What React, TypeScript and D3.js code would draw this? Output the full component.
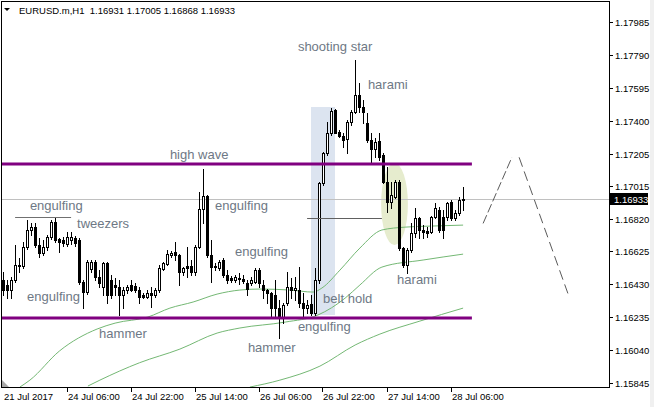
import React, { useEffect, useRef } from "react";
import * as d3 from "d3";

type Bar = [number, number, number, number]; // open, high, low, close
type Pt = [number, number]; // bar index, price

const symbol = "EURUSD.m";
const timeframe = "H1";

// hourly bars, one array per trading day
const jul21: Bar[] = [
  [1.16455, 1.16503, 1.16366, 1.16396],
  [1.16426, 1.16455, 1.16348, 1.16396],
  [1.16396, 1.16473, 1.16348, 1.16455],
  [1.16455, 1.16663, 1.16443, 1.16544],
  [1.16544, 1.16586, 1.16503, 1.16538],
  [1.16538, 1.1668, 1.16526, 1.16651],
  [1.16651, 1.16811, 1.16639, 1.16752],
  [1.16752, 1.16793, 1.16722, 1.16769],
  [1.16769, 1.16793, 1.16651, 1.16663],
  [1.16663, 1.16704, 1.16592, 1.16615],
];
const jul24: Bar[] = [
  [1.16615, 1.16692, 1.16603, 1.16651],
  [1.16651, 1.16722, 1.16633, 1.1671],
  [1.1671, 1.16811, 1.16698, 1.16799],
  [1.16799, 1.16829, 1.1668, 1.16692],
  [1.16698, 1.16704, 1.16621, 1.1668],
  [1.16692, 1.1671, 1.16657, 1.16675],
  [1.16669, 1.1674, 1.16657, 1.1671],
  [1.16692, 1.1674, 1.16669, 1.1671],
  [1.16704, 1.16716, 1.16657, 1.16675],
  [1.16692, 1.16704, 1.16431, 1.16443],
  [1.16443, 1.16455, 1.16289, 1.16384],
  [1.16384, 1.16574, 1.16372, 1.16562],
  [1.1652, 1.16574, 1.16503, 1.16562],
  [1.16562, 1.16574, 1.16455, 1.16473],
  [1.16473, 1.16514, 1.16414, 1.16437],
  [1.16414, 1.16562, 1.16366, 1.16556],
  [1.16556, 1.16562, 1.16319, 1.16366],
  [1.16455, 1.16485, 1.16348, 1.16366],
  [1.16426, 1.16467, 1.16366, 1.16414],
  [1.16414, 1.16455, 1.16248, 1.16366],
  [1.16366, 1.16414, 1.16289, 1.16396],
  [1.16396, 1.16426, 1.16378, 1.16414],
  [1.16426, 1.16455, 1.1639, 1.16396],
  [1.1642, 1.16437, 1.16384, 1.16396],
];
const jul25: Bar[] = [
  [1.16396, 1.16414, 1.16319, 1.16354],
  [1.16366, 1.16378, 1.16348, 1.16354],
  [1.16354, 1.16396, 1.16348, 1.16378],
  [1.16378, 1.16414, 1.16295, 1.16366],
  [1.16366, 1.16408, 1.16354, 1.16396],
  [1.16396, 1.16544, 1.16384, 1.16526],
  [1.1652, 1.16562, 1.16514, 1.16556],
  [1.1655, 1.16633, 1.16544, 1.16609],
  [1.16603, 1.16627, 1.16592, 1.16615],
  [1.16621, 1.1668, 1.16574, 1.16603],
  [1.16603, 1.16609, 1.16426, 1.16503],
  [1.16503, 1.16532, 1.16485, 1.16526],
  [1.16538, 1.16651, 1.16473, 1.16526],
  [1.16538, 1.16574, 1.16485, 1.16503],
  [1.16503, 1.16663, 1.16485, 1.16651],
  [1.16651, 1.16977, 1.16645, 1.16876],
  [1.16876, 1.17113, 1.16793, 1.16953],
  [1.16953, 1.16959, 1.16592, 1.16603],
  [1.16603, 1.16692, 1.16443, 1.16532],
  [1.16538, 1.16556, 1.16514, 1.16532],
  [1.16526, 1.16574, 1.16514, 1.16562],
  [1.16574, 1.16586, 1.16473, 1.16485],
  [1.16485, 1.16514, 1.16437, 1.16455],
  [1.16467, 1.16479, 1.16443, 1.16455],
];
const jul26: Bar[] = [
  [1.16455, 1.16485, 1.16443, 1.16473],
  [1.16467, 1.16497, 1.16431, 1.16461],
  [1.16461, 1.16485, 1.16437, 1.16449],
  [1.16437, 1.16455, 1.16366, 1.16402],
  [1.16437, 1.16473, 1.16426, 1.16455],
  [1.16443, 1.16526, 1.16437, 1.16514],
  [1.16514, 1.16526, 1.16414, 1.16437],
  [1.16426, 1.16455, 1.16348, 1.16396],
  [1.16396, 1.16402, 1.16319, 1.16378],
  [1.16378, 1.16384, 1.16236, 1.16289],
  [1.16366, 1.16455, 1.1623, 1.16289],
  [1.16289, 1.16337, 1.16111, 1.1623],
  [1.1623, 1.16319, 1.162, 1.16307],
  [1.16319, 1.16503, 1.16307, 1.16414],
  [1.16414, 1.16467, 1.16348, 1.16396],
  [1.16396, 1.16473, 1.16337, 1.16408],
  [1.16396, 1.16532, 1.16295, 1.16319],
  [1.16319, 1.16378, 1.16236, 1.16289],
  [1.16289, 1.16337, 1.1626, 1.16307],
  [1.16313, 1.16366, 1.16248, 1.1626],
  [1.1626, 1.16526, 1.16248, 1.16455],
  [1.16455, 1.17036, 1.16437, 1.1703],
  [1.1703, 1.17214, 1.17018, 1.17208],
  [1.17208, 1.17392, 1.17196, 1.17327],
];
const jul27: Bar[] = [
  [1.17327, 1.17475, 1.17315, 1.17457],
  [1.17463, 1.17469, 1.17327, 1.17327],
  [1.17333, 1.17344, 1.17303, 1.17309],
  [1.17309, 1.17327, 1.17244, 1.17285],
  [1.17291, 1.17404, 1.17208, 1.17392],
  [1.17392, 1.17463, 1.17374, 1.17451],
  [1.17451, 1.17759, 1.17445, 1.17552],
  [1.17552, 1.17623, 1.17451, 1.17481],
  [1.17481, 1.17522, 1.17386, 1.17451],
  [1.17386, 1.17445, 1.17273, 1.17285],
  [1.17285, 1.17327, 1.17149, 1.17232],
  [1.17232, 1.17297, 1.17184, 1.17273],
  [1.17279, 1.17327, 1.17167, 1.17184],
  [1.17196, 1.17208, 1.1703, 1.17036],
  [1.17036, 1.17125, 1.16858, 1.16918],
  [1.16918, 1.17036, 1.16882, 1.16959],
  [1.16947, 1.17048, 1.16941, 1.17036],
  [1.17036, 1.17048, 1.16633, 1.16645],
  [1.16645, 1.16651, 1.16532, 1.16544],
  [1.16544, 1.16645, 1.16497, 1.16633],
  [1.16633, 1.16793, 1.16621, 1.16734],
  [1.16734, 1.16882, 1.1671, 1.16823],
  [1.16823, 1.16829, 1.16704, 1.16752],
  [1.16752, 1.16781, 1.16704, 1.1674],
];
const jul28: Bar[] = [
  [1.16746, 1.16769, 1.1671, 1.16734],
  [1.1674, 1.16835, 1.16734, 1.16829],
  [1.16829, 1.16912, 1.16823, 1.16882],
  [1.1687, 1.16888, 1.1674, 1.16752],
  [1.16829, 1.1687, 1.16704, 1.16752],
  [1.16829, 1.16918, 1.16811, 1.16912],
  [1.16918, 1.16929, 1.16811, 1.16823],
  [1.16823, 1.1687, 1.16811, 1.16852],
  [1.16852, 1.16947, 1.1684, 1.16929],
  [1.16931, 1.17005, 1.16868, 1.16933],
];
const bars: Bar[] = [...jul21, ...jul24, ...jul25, ...jul26, ...jul27, ...jul28];

const priceTicks = [
  1.17985, 1.1779, 1.17595, 1.174, 1.17205, 1.17015, 1.1682, 1.16625, 1.1643,
  1.16235, 1.1604, 1.15845,
];
const timeTickIndex = [0, 16, 32, 48, 64, 80, 96, 112];
const timeTickLabels = [
  "21 Jul 2017",
  "24 Jul 06:00",
  "24 Jul 22:00",
  "25 Jul 14:00",
  "26 Jul 06:00",
  "26 Jul 22:00",
  "27 Jul 14:00",
  "28 Jul 06:00",
];

// moving averages
const maFast: Pt[] = [
  [4.1, 1.15821], [6.6, 1.15862], [14, 1.16035], [23.4, 1.16165], [27.9, 1.162],
  [36.1, 1.16236], [41.6, 1.16289], [47.4, 1.16325], [53.4, 1.16372],
  [59.1, 1.16396], [64.1, 1.16402], [71.6, 1.16396], [77.4, 1.16384],
  [79.6, 1.16408], [84.1, 1.16514], [89.1, 1.16645], [94.6, 1.16752],
  [100.4, 1.16769], [106.6, 1.16775], [114.9, 1.16781],
];
const maMid: Pt[] = [
  [21.1, 1.15827], [24.1, 1.15862], [34, 1.15965], [44.1, 1.16046],
  [53.4, 1.16141], [59.1, 1.16171], [70.4, 1.16206], [78.6, 1.16248],
  [85.4, 1.16348], [89.1, 1.16426], [94.6, 1.16532], [104.9, 1.16574],
  [114.9, 1.16609],
];
const maSlow: Pt[] = [
  [61.6, 1.15821], [69.1, 1.15862], [79.1, 1.15945], [87.9, 1.1607],
  [94.1, 1.16135], [104.1, 1.16212], [114.9, 1.16289],
];

// drawn objects
const resistance = 1.17143;
const support = 1.1623;
const levelEnd = 117.1;
const tweezersLine = { from: 2.9, to: 16.9, price: 1.16829 };
const beltLine = { from: 75.9, to: 94.6, price: 1.16823 };
const beltBox = { from: 77, to: 83, top: 1.17481, bottom: 1.16248 };
const haramiOval = { from: 94.4, to: 101.1, top: 1.17149, bottom: 1.16663 };
const forecastUp: Pt[] = [[119.9, 1.16791], [127.1, 1.17183]];
const forecastDown: Pt[] = [[128.9, 1.17183], [141.1, 1.16376]];

const patternNames = [
  "engulfing", "tweezers", "engulfing", "hammer", "high wave", "engulfing",
  "engulfing", "hammer", "belt hold", "engulfing", "shooting star", "harami",
  "harami",
];
const patternIndex = [6.6, 18.4, 5.9, 23.9, 41.6, 52.9, 57.9, 61.1, 79.9, 73.6, 73.6, 91.1, 98.4];
const patternPrice = [
  1.1687, 1.16763, 1.16331, 1.16111, 1.17172, 1.1687, 1.16597, 1.16028,
  1.16319, 1.16153, 1.17813, 1.17587, 1.16431,
];

const W = 654;
const H = 407;
const FONT = "'Liberation Sans', Arial, sans-serif";

export default function App() {
  const ref = useRef<SVGSVGElement | null>(null);

  useEffect(() => {
    const svg = d3.select(ref.current);
    svg.selectAll("*").remove();

    const x = d3.scaleLinear().domain([0, 151.5]).range([3.5, 609.5]);
    const y = d3.scaleLinear().domain([1.15845, 1.17985]).range([383, 22]);
    const py = (p: number) => Math.round(y(p)) + 0.5;

    svg.append("rect").attr("width", W).attr("height", H).attr("fill", "#fff");
    svg.append("rect").attr("x", 650).attr("width", 4).attr("height", H).attr("fill", "#f0f0f0");

    svg
      .append("defs")
      .append("clipPath")
      .attr("id", "plot")
      .append("rect")
      .attr("x", 2)
      .attr("y", 2)
      .attr("width", 607)
      .attr("height", 385);

    const g = svg.append("g").attr("clip-path", "url(#plot)");

    // background objects
    g.append("rect")
      .attr("x", x(beltBox.from) - 0.5)
      .attr("y", y(beltBox.top))
      .attr("width", x(beltBox.to) - x(beltBox.from))
      .attr("height", y(beltBox.bottom) - y(beltBox.top))
      .attr("fill", "#dce4f0");
    g.append("ellipse")
      .attr("cx", (x(haramiOval.from) + x(haramiOval.to)) / 2)
      .attr("cy", (y(haramiOval.top) + y(haramiOval.bottom)) / 2)
      .attr("rx", (x(haramiOval.to) - x(haramiOval.from)) / 2)
      .attr("ry", (y(haramiOval.bottom) - y(haramiOval.top)) / 2)
      .attr("fill", "#e6ecce");

    // bid line
    g.append("line")
      .attr("x1", 2)
      .attr("x2", 609)
      .attr("y1", py(bars[bars.length - 1][3]))
      .attr("y2", py(bars[bars.length - 1][3]))
      .attr("stroke", "#c0c0c0");

    // moving averages
    const ma = d3
      .line<Pt>()
      .x((d) => x(d[0]))
      .y((d) => y(d[1]))
      .curve(d3.curveMonotoneX);
    [maFast, maMid, maSlow].forEach((s) => {
      g.append("path")
        .datum(s)
        .attr("d", ma)
        .attr("fill", "none")
        .attr("stroke", "#74b874")
        .attr("stroke-width", 1);
    });

    // candles
    const cg = g.append("g");
    bars.forEach(([o, h, l, c], i) => {
      const cx = x(i);
      cg.append("line")
        .attr("x1", cx)
        .attr("x2", cx)
        .attr("y1", Math.round(y(h)))
        .attr("y2", Math.round(y(l)) + 1)
        .attr("stroke", "#000");
      const top = Math.round(y(Math.max(o, c)));
      const bot = Math.round(y(Math.min(o, c)));
      if (bot - top < 1) {
        cg.append("line")
          .attr("x1", cx - 1.5)
          .attr("x2", cx + 1.5)
          .attr("y1", top + 0.5)
          .attr("y2", top + 0.5)
          .attr("stroke", "#000");
      } else {
        cg.append("rect")
          .attr("x", cx - 1)
          .attr("y", top + 0.5)
          .attr("width", 2)
          .attr("height", bot - top)
          .attr("fill", c >= o ? "#fff" : "#000")
          .attr("stroke", "#000");
      }
    });

    // levels and lines
    [resistance, support].forEach((p) => {
      g.append("line")
        .attr("x1", 0)
        .attr("x2", x(levelEnd))
        .attr("y1", y(p))
        .attr("y2", y(p))
        .attr("stroke", "#800080")
        .attr("stroke-width", 3);
    });
    g.append("line")
      .attr("x1", x(tweezersLine.from))
      .attr("x2", x(tweezersLine.to))
      .attr("y1", py(tweezersLine.price))
      .attr("y2", py(tweezersLine.price))
      .attr("stroke", "#707070");
    g.append("line")
      .attr("x1", x(beltLine.from))
      .attr("x2", x(beltLine.to))
      .attr("y1", py(beltLine.price))
      .attr("y2", py(beltLine.price))
      .attr("stroke", "#606060");

    const seg = d3
      .line<Pt>()
      .x((d) => x(d[0]))
      .y((d) => y(d[1]));
    g.append("path")
      .datum(forecastUp)
      .attr("d", seg)
      .attr("fill", "none")
      .attr("stroke", "#5a5a5a")
      .attr("stroke-dasharray", "9,3");
    g.append("path")
      .datum(forecastDown)
      .attr("d", seg)
      .attr("fill", "none")
      .attr("stroke", "#5a5a5a")
      .attr("stroke-dasharray", "10,5");

    // pattern labels
    patternNames.forEach((t, k) => {
      g.append("text")
        .attr("x", x(patternIndex[k]))
        .attr("y", y(patternPrice[k]))
        .attr("font-family", FONT)
        .attr("font-size", 13)
        .attr("fill", "#6e7885")
        .text(t);
    });

    // chart-shift marker
    svg
      .append("path")
      .attr("d", "M2,380L2,387L9,387Z")
      .attr("fill", "#a8a8a8");

    // frame
    svg
      .append("rect")
      .attr("x", 1.5)
      .attr("y", 1.5)
      .attr("width", 608)
      .attr("height", 386)
      .attr("fill", "none")
      .attr("stroke", "#000");

    // price axis
    priceTicks.forEach((p) => {
      const yy = py(p);
      svg.append("line").attr("x1", 609.5).attr("x2", 613).attr("y1", yy).attr("y2", yy).attr("stroke", "#000");
      svg
        .append("text")
        .attr("x", 615)
        .attr("y", yy + 3.5)
        .attr("font-family", FONT)
        .attr("font-size", 9.5)
        .attr("fill", "#000")
        .text(d3.format(".5f")(p));
    });
    const last = bars[bars.length - 1];
    const ly = py(last[3]);
    svg.append("rect").attr("x", 610).attr("y", ly - 6.5).attr("width", 38).attr("height", 12).attr("fill", "#000");
    svg
      .append("text")
      .attr("x", 614)
      .attr("y", ly + 3.5)
      .attr("font-family", FONT)
      .attr("font-size", 9.5)
      .attr("fill", "#fff")
      .text(d3.format(".5f")(last[3]));

    // time axis
    timeTickIndex.forEach((ti, k) => {
      const tx = Math.round(x(ti)) - 0.5;
      if (ti > 0)
        svg.append("line").attr("x1", tx).attr("x2", tx).attr("y1", 387.5).attr("y2", 392).attr("stroke", "#000");
      svg
        .append("text")
        .attr("x", tx + 0.5)
        .attr("y", 400)
        .attr("font-family", FONT)
        .attr("font-size", 9.5)
        .attr("fill", "#000")
        .text(timeTickLabels[k]);
    });

    // header
    svg.append("path").attr("d", "M4,8L10,8L7,11Z").attr("fill", "#000");
    const f = d3.format(".5f");
    svg
      .append("text")
      .attr("x", 19)
      .attr("y", 13.5)
      .attr("font-family", FONT)
      .attr("font-size", 9.5)
      .attr("fill", "#000")
      .style("white-space", "pre")
      .text(`${symbol},${timeframe}  ${f(last[0])} ${f(last[1])} ${f(last[2])} ${f(last[3])}`);
  }, []);

  return (
    <svg
      ref={ref}
      width={W}
      height={H}
      style={{ position: "absolute", left: 0, top: 0, display: "block" }}
    />
  );
}
